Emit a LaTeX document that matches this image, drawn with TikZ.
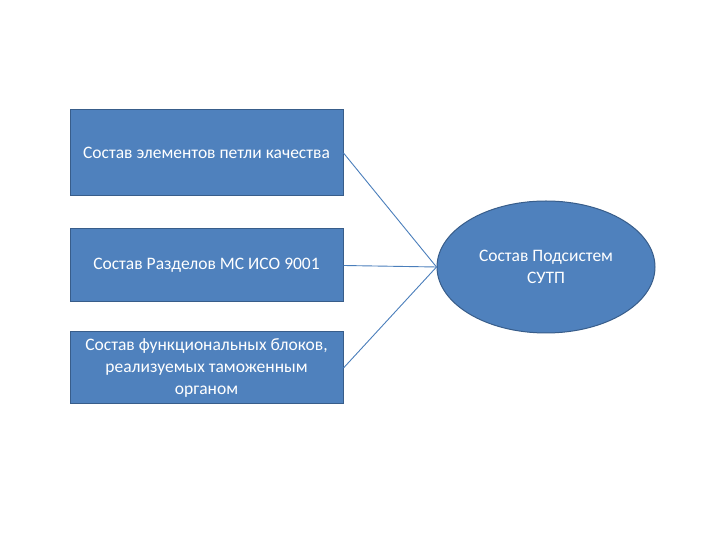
\documentclass[tikz,border=0pt]{standalone}
\usepackage{fontspec}
\setmainfont{Carlito}
\usetikzlibrary{shapes.geometric}

\tikzset{
  part/.style={draw=edgecol, line width=1pt, fill=rgbfill, text=white,
    minimum width=273pt, align=center, inner sep=2pt},
  whole/.style={ellipse, draw=edgecol, line width=1pt, fill=rgbfill, text=white,
    minimum width=218pt, minimum height=132pt, align=center}
}
\definecolor{rgbfill}{RGB}{79,129,189}
\definecolor{edgecol}{RGB}{56,93,138}
\definecolor{linkcol}{RGB}{74,126,187}

\begin{document}
\begin{tikzpicture}[x=1pt,y=1pt,font=\fontsize{17.5}{22}\selectfont]
  \useasboundingbox (0,0) rectangle (720,540);
  \node[part, minimum height=86pt] (loop) at (206.5,387) {Состав элементов петли качества};
  \node[part, minimum height=73pt] (iso) at (206.5,274.5) {Состав Разделов МС ИСО 9001};
  \node[part, minimum height=72pt] (func) at (206.5,172) {Состав функциональных блоков,\\ реализуемых таможенным\\ органом};
  \node[whole] (sutp) at (546,273) {Состав Подсистем\\ СУТП};
  \path[draw=linkcol, line width=0.9pt]
  (loop.east) edge (sutp.west)
  (iso.east) edge (sutp.west)
  (func.east) edge (sutp.west);
\end{tikzpicture}
\end{document}
